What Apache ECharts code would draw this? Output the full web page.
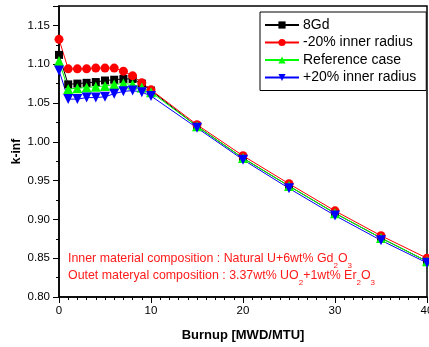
<!DOCTYPE html>
<html><head><meta charset="utf-8">
<script src="https://cdn.jsdelivr.net/npm/echarts@6/dist/echarts.min.js"></script>
<style>html,body{margin:0;padding:0;background:#fff}#c{width:429px;height:347px}</style>
</head><body><div id="c"></div>
<script>
const burnup = [0, 1, 2, 3, 4, 5, 6, 7, 8, 9, 10, 15, 20, 25, 30, 35, 40];
const gd8   = [1.112, 1.074, 1.075, 1.076, 1.077, 1.079, 1.080, 1.081, 1.081, 1.075, 1.066, 1.020, 0.979, 0.943, 0.908, 0.876, 0.846];
const minus20 = [1.132, 1.094, 1.094, 1.094, 1.095, 1.095, 1.095, 1.091, 1.085, 1.076, 1.067, 1.022, 0.982, 0.946, 0.911, 0.879, 0.850];
const refCase = [1.104, 1.068, 1.069, 1.070, 1.071, 1.072, 1.074, 1.075, 1.074, 1.070, 1.064, 1.020, 0.979, 0.943, 0.908, 0.876, 0.846];
const plus20  = [1.092, 1.055, 1.055, 1.057, 1.057, 1.058, 1.062, 1.065, 1.066, 1.064, 1.059, 1.018, 0.977, 0.940, 0.905, 0.873, 0.844];
const names = ['8Gd', '-20% inner radius', 'Reference case', '+20% inner radius'];

const F = 'Arial, "Liberation Sans", sans-serif';
const chart = echarts.init(document.getElementById('c'), null, {renderer: 'canvas'});
function mk(name, data, color, symbol, size, rot) {
  return {
    name: name, type: 'line', data: burnup.map((b, i) => [b, data[i]]),
    symbol: symbol, symbolSize: size, symbolRotate: rot || 0,
    itemStyle: {color: color}, lineStyle: {color: color, width: 1},
    animation: false, clip: false
  };
}
chart.setOption({
  backgroundColor: '#fff',
  animation: false,
  grid: {left: 59, right: 2, top: 6, bottom: 50, show: true, borderColor: '#000', borderWidth: 1.5,
    backgroundColor: 'transparent', containLabel: false, outerBoundsMode: 'none'},
  legend: {
    orient: 'vertical', left: 260, top: 12, width: 166,
    padding: [6, 10, 6, 4], itemGap: 3.5, itemWidth: 34, itemHeight: 9,
    backgroundColor: '#fff', borderColor: '#000', borderWidth: 1, borderRadius: 0,
    textStyle: {fontSize: 14, color: '#000', fontFamily: F, padding: [0, 0, 0, -1]},
    data: names
  },
  xAxis: {
    type: 'value', min: 0, max: 40, interval: 10,
    name: 'Burnup [MWD/MTU]', nameLocation: 'middle', nameGap: 32, nameMoveOverlap: false,
    nameTextStyle: {fontSize: 13, fontWeight: 'bold', color: '#000', fontFamily: F},
    axisLine: {lineStyle: {color: '#000', width: 1.5}},
    axisTick: {inside: false, length: 6, lineStyle: {color: '#000', width: 1}},
    minorTick: {show: true, splitNumber: 10, length: 3, lineStyle: {color: '#000', width: 1}},
    splitLine: {show: false},
    axisLabel: {fontSize: 11.5, color: '#000', margin: 8, fontFamily: F}
  },
  yAxis: {
    type: 'value', min: 0.80, max: 1.175, interval: 0.05,
    name: 'k-inf', nameLocation: 'middle', nameGap: 36, nameRotate: 90, nameMoveOverlap: false,
    nameTextStyle: {fontSize: 12, fontWeight: 'bold', color: '#000', fontFamily: F},
    axisLine: {lineStyle: {color: '#000', width: 1.5}},
    axisTick: {inside: false, length: 6, lineStyle: {color: '#000', width: 1}},
    minorTick: {show: true, splitNumber: 2, length: 3, lineStyle: {color: '#000', width: 1}},
    splitLine: {show: false},
    axisLabel: {fontSize: 11.5, color: '#000', margin: 9, fontFamily: F, showMaxLabel: false,
      formatter: v => v.toFixed(2)}
  },
  graphic: [{
    type: 'text', left: 68, top: 250, z: 100,
    style: {
      text: 'Inner material composition : Natural U+6wt% Gd{s|2}O{s|3}\nOutet materyal composition : 3.37wt% UO{s|2}+1wt% Er{s|2}O{s|3}',
      font: '12.4px ' + F, fill: '#ff1a1a', lineHeight: 17,
      rich: {s: {fontSize: 8, lineHeight: 4, verticalAlign: 'bottom', fill: '#ff1a1a', fontFamily: F, padding: [0, 0, -3, 0]}}
    }
  }],
  series: [
    mk(names[0], gd8, '#000000', 'rect', 8),
    mk(names[1], minus20, '#ff0000', 'circle', 9),
    mk(names[2], refCase, '#00ff00', 'triangle', 10),
    mk(names[3], plus20, '#0000ff', 'triangle', 10, 180)
  ]
});
</script></body></html>
